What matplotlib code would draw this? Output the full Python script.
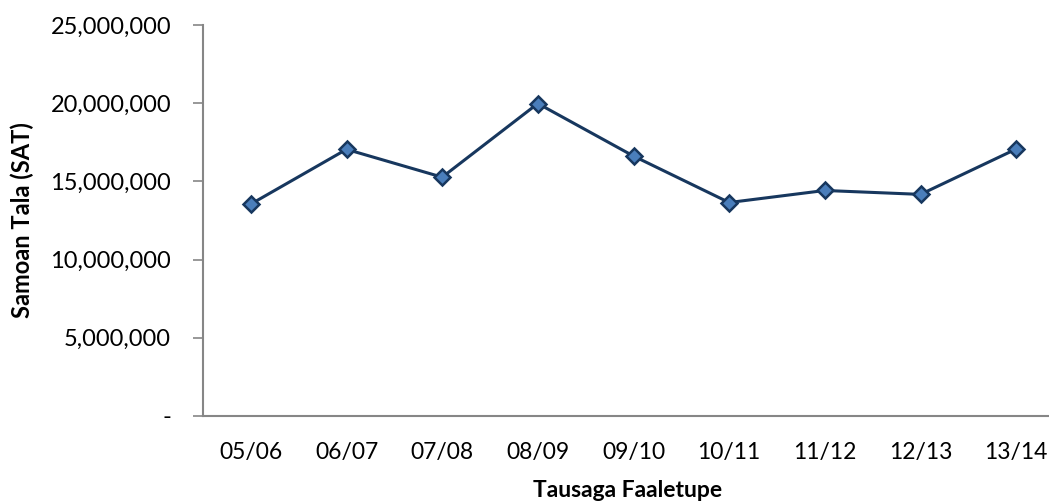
import matplotlib.pyplot as plt
from matplotlib.ticker import FuncFormatter

# fiscal years and value in Samoan Tala
years = ["05/06", "06/07", "07/08", "08/09", "09/10", "10/11", "11/12", "12/13", "13/14"]
values = [13550000, 17050000, 15270000, 19980000, 16620000, 13650000, 14420000, 14170000, 17070000]

plt.rcParams['font.family'] = ['Lato', 'DejaVu Sans']

fig = plt.figure(figsize=(10.49, 5.04), dpi=100)
ax = fig.add_axes([203 / 1049, 88 / 504, 861 / 1049, 391 / 504])

x = list(range(len(years)))
ax.plot(x, values, color="#17375E", linewidth=2.2, marker="D", markersize=8.5,
        markerfacecolor="#4A7EBB", markeredgecolor="#17375E", markeredgewidth=1.8,
        zorder=3)

ax.set_xlim(-0.5, len(years) - 0.5)
ax.set_ylim(0, 25000000)
ax.set_yticks(range(0, 25000001, 5000000))
ax.yaxis.set_major_formatter(FuncFormatter(lambda v, p: "-" if v == 0 else f"{int(v):,}"))
ax.set_xticks(x)
ax.set_xticklabels(years)

for side in ["top", "right"]:
    ax.spines[side].set_visible(False)
for side in ["left", "bottom"]:
    ax.spines[side].set_color("#868686")
    ax.spines[side].set_linewidth(1.5)

ax.tick_params(axis="y", length=7, width=1.2, color="#868686", labelsize=17, pad=16)
ax.tick_params(axis="x", length=0, labelsize=16.5, pad=19)

ax.set_ylabel("Samoan Tala (SAT)", fontsize=17, fontweight="bold")
ax.yaxis.set_label_coords(-(203 - 34) / 861, (416 - 220) / 391)
ax.set_xlabel("Tausaga Faaletupe", fontsize=16.5, fontweight="bold")
ax.xaxis.set_label_coords((628 - 203) / 861, -(480 - 416) / 391)

fig.savefig("out.png", dpi=100)
